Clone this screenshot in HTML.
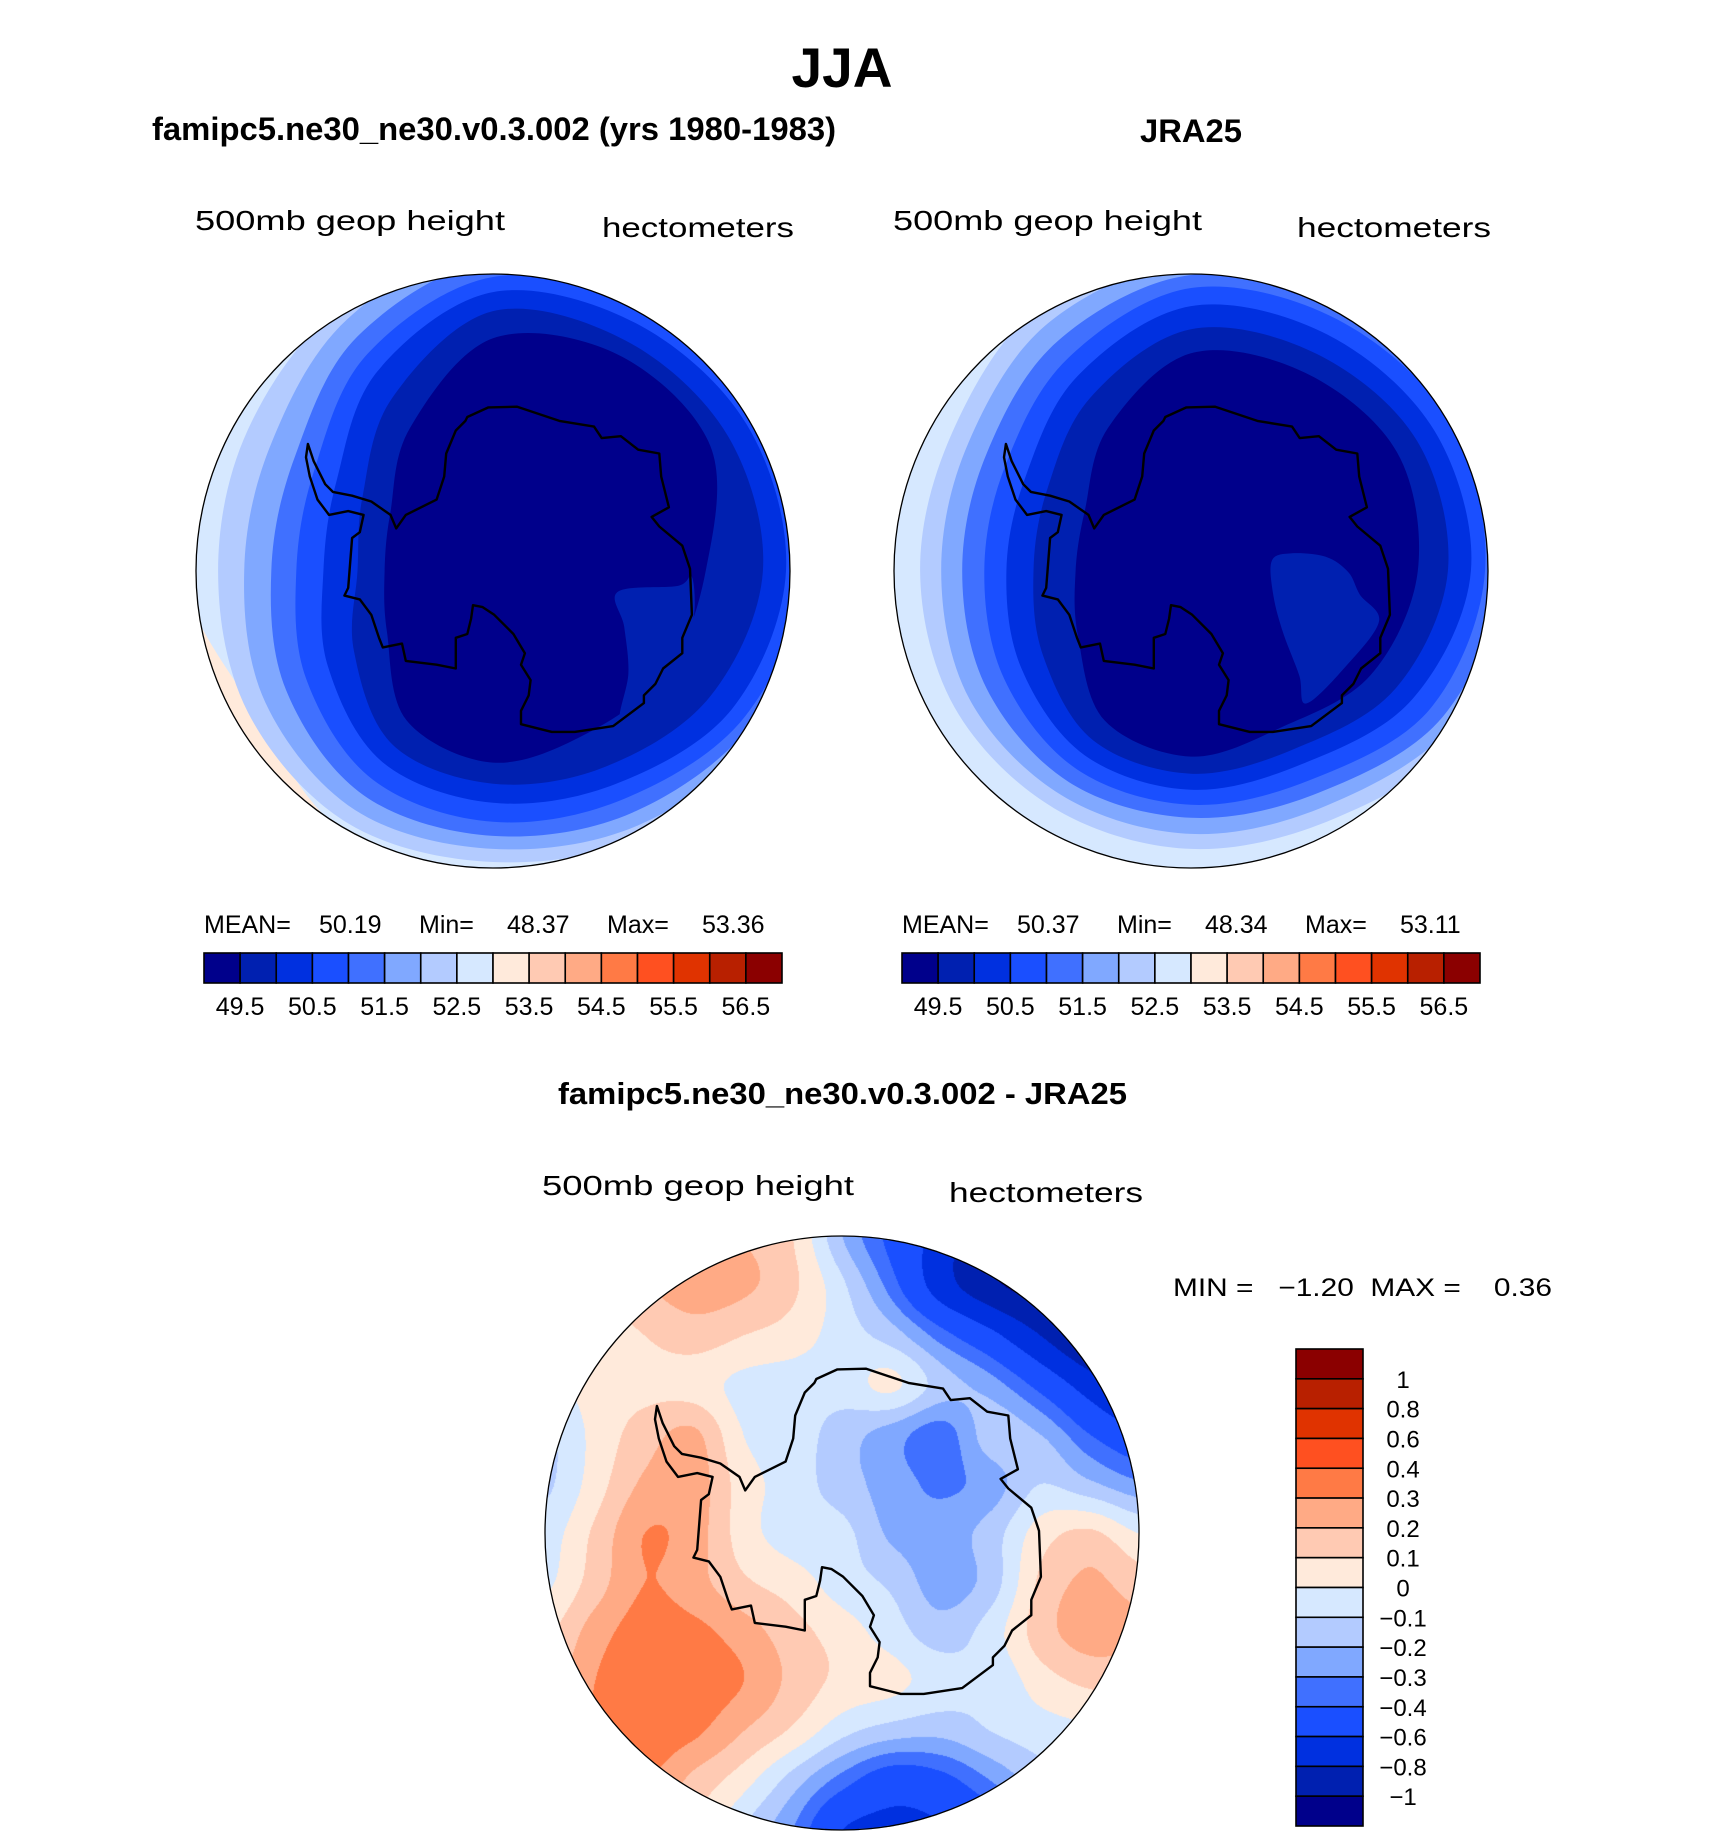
<!DOCTYPE html>
<html><head><meta charset="utf-8"><title>JJA 500mb geop height</title>
<style>
html,body{margin:0;padding:0;background:#fff;}
#wrap{position:relative;width:1710px;height:1839px;overflow:hidden;background:#fff;}
#diffCanvas{position:absolute;left:0;top:0;}
#main{position:absolute;left:0;top:0;}
text{font-family:"Liberation Sans",sans-serif;fill:#000;}
</style></head>
<body>
<div id="wrap">
<canvas id="diffCanvas" width="1710" height="1839"></canvas>
<svg id="main" width="1710" height="1839" xmlns="http://www.w3.org/2000/svg">
  <text x="842" y="87" text-anchor="middle" font-size="56" font-weight="bold" textLength="101" lengthAdjust="spacingAndGlyphs">JJA</text>
  <text x="152" y="140" font-size="32" font-weight="bold" textLength="684" lengthAdjust="spacingAndGlyphs">famipc5.ne30_ne30.v0.3.002 (yrs 1980-1983)</text>
  <text x="1140" y="142" font-size="32" font-weight="bold" textLength="102" lengthAdjust="spacingAndGlyphs">JRA25</text>
  <text x="195" y="230" font-size="28" textLength="310" lengthAdjust="spacingAndGlyphs">500mb geop height</text>
  <text x="602" y="237" font-size="28" textLength="192" lengthAdjust="spacingAndGlyphs">hectometers</text>
  <text x="893" y="230" font-size="28" textLength="309" lengthAdjust="spacingAndGlyphs">500mb geop height</text>
  <text x="1297" y="237" font-size="28" textLength="194" lengthAdjust="spacingAndGlyphs">hectometers</text>
  <text x="558" y="1104" font-size="31" font-weight="bold" textLength="569" lengthAdjust="spacingAndGlyphs">famipc5.ne30_ne30.v0.3.002 - JRA25</text>
  <text x="542" y="1195" font-size="28" textLength="312" lengthAdjust="spacingAndGlyphs">500mb geop height</text>
  <text x="949" y="1202" font-size="28" textLength="194" lengthAdjust="spacingAndGlyphs">hectometers</text>
  <text x="1173" y="1296" font-size="25" textLength="379" lengthAdjust="spacingAndGlyphs" xml:space="preserve">MIN =   −1.20  MAX =    0.36</text>
  <g id="layer"></g>
</svg>
</div>
<script>
// ---------------- DATA ----------------
const angleDeg = [0,30,60,90,120,150,180,210,240,270,300,330];
const upperLevels = [53,52.5,52,51.5,51,50.5,50,49.5];
const upperColors = ["#d6e8ff","#b3cbff","#80a8ff","#4070ff","#1a4fff","#0030e0","#0020b0","#00008b"];
const upperOuterColor = "#ffeadb";
const modelR53   = [360,360,340,320,300,276,310,330,340,360,360,360];
const modelR52_5 = [350,330,305,290,290,282,274,282,305,340,350,350];
const modelR52   = [340,315,292,277,275,262,248,255,290,330,340,340];
const modelR51_5 = [320,300,278,264,258,238,221,228,270,310,320,325];
const modelR51   = [310,290,262,250,240,215,196,205,250,293,305,310];
const modelR50_5 = [292,275,245,231,220,190,169,180,230,278,285,292];
const modelR50   = [269,250,225,212,200,160,135,150,200,259,265,270];
const modelR49_5 = [212,200,187,191,172,122,108,118,165,232,249,250];
const modelIslandAngles = [9.5,4.6,1.5,12,23.5,37,49,37,23];
const modelIslandRadii  = [126,185,198,205,206,199,194,169,142];
const obsR53   = [345,345,345,345,345,345,345,345,345,345,345,345];
const obsR52_5 = [350,320,285,277,273,272,270,275,305,340,350,350];
const obsR52   = [330,303,270,262,258,255,249,256,285,310,330,330];
const obsR51_5 = [310,290,255,246,243,235,228,235,265,295,305,312];
const obsR51   = [293,275,240,233,228,215,206,213,245,282,290,298];
const obsR50_5 = [279,255,222,218,212,195,184,190,225,264,272,280];
const obsR50   = [256,235,205,202,195,170,157,165,200,241,250,260];
const obsR49_5 = [226,207,180,185,172,130,115,122,165,217,228,237];
const obsIslandAngles = [-7,-10,-6,0.5,8,15,32,49,44,34,17];
const obsIslandRadii  = [81,101,135,157,170,194,181,175,150,111,86];
const barLabels = ["49.5","50.5","51.5","52.5","53.5","54.5","55.5","56.5"];
const barColors = ["#00008b","#0020b0","#0030e0","#1a4fff","#4070ff","#80a8ff","#b3cbff","#d6e8ff","#ffeadb","#ffcab3","#ffaa85","#ff7a45","#ff5020","#e03300","#b82000","#8b0000"];
const modelStats = ["50.19","48.37","53.36"];
const obsStats = ["50.37","48.34","53.11"];
const diffRow0  = [0.05,0.1,0.15,0.22,0.2,0.1,-0.2,-0.45,-0.7,-1.05,-1.2,-1.3,-1.3];
const diffRow1  = [0.0,0.05,0.18,0.25,0.22,0.12,-0.08,-0.35,-0.7,-0.95,-1.1,-1.15,-1.2];
const diffRow2  = [0.0,0.05,0.1,0.15,0.1,0.05,-0.05,-0.15,-0.35,-0.55,-0.8,-1.05,-1.2];
const diffRow3  = [-0.05,0.05,0.07,0.05,-0.03,-0.05,-0.05,0.02,-0.15,-0.25,-0.45,-0.7,-0.95];
const diffRow4  = [-0.12,0.03,0.15,0.22,0.0,-0.05,-0.15,-0.25,-0.35,-0.15,-0.2,-0.4,-0.55];
const diffRow5  = [-0.12,0.05,0.22,0.25,0.05,-0.05,-0.15,-0.25,-0.32,-0.25,-0.1,-0.18,-0.28];
const diffRow6  = [-0.05,0.12,0.3,0.25,0.05,-0.05,-0.07,-0.22,-0.25,-0.15,0.05,0.12,0.0];
const diffRow7  = [-0.02,0.15,0.3,0.24,0.12,0.05,-0.05,-0.12,-0.25,-0.15,0.12,0.22,0.15];
const diffRow8  = [0.08,0.25,0.35,0.33,0.25,0.14,0.05,-0.05,-0.15,-0.05,0.15,0.25,0.22];
const diffRow9  = [0.15,0.3,0.38,0.36,0.3,0.17,0.07,0.03,-0.05,-0.08,0.05,0.12,0.12];
const diffRow10 = [0.2,0.3,0.36,0.32,0.2,0.08,-0.07,-0.15,-0.17,-0.1,-0.05,-0.02,0.0];
const diffRow11 = [0.2,0.25,0.3,0.17,0.04,-0.15,-0.35,-0.5,-0.45,-0.3,-0.15,-0.1,-0.05];
const diffRow12 = [0.15,0.15,0.15,0.1,-0.1,-0.3,-0.6,-0.65,-0.62,-0.5,-0.3,-0.2,-0.1];
const diffLevels = [-1,-0.8,-0.6,-0.4,-0.3,-0.2,-0.1,0,0.1,0.2,0.3,0.4,0.6,0.8,1];
const diffLabels = ["1","0.8","0.6","0.4","0.3","0.2","0.1","0","\u22120.1","\u22120.2","\u22120.3","\u22120.4","\u22120.6","\u22120.8","\u22121"];
const coastTrace = [[535,675],[560,640],[640,600],[660,540],[665,480],[690,420],[715,395],[720,385],[775,360],[850,358],[960,395],[1050,410],[1070,440],[1120,435],[1165,470],[1220,480],[1225,540],[1245,620],[1200,645],[1220,670],[1280,720],[1300,780],[1305,900],[1280,960],[1280,1000],[1230,1040],[1210,1080],[1180,1110],[1180,1130],[1100,1190],[1000,1205],[940,1205],[860,1185],[860,1150],[880,1110],[885,1070],[860,1030],[870,1000],[840,950],[790,900],[760,880],[735,875],[730,910],[720,950],[690,960],[690,1040],[640,1030],[560,1020],[550,975],[500,985],[490,960],[470,900],[440,860],[400,850],[410,830],[420,700],[440,685],[450,640],[410,630],[360,640],[330,600],[310,540],[300,490],[305,455],[320,500],[350,560],[370,580],[420,590],[470,605],[520,640],[535,675]];

// ---------------- DRAWING ----------------
const NS = "http://www.w3.org/2000/svg";
const layer = document.getElementById('layer');
function el(tag, attrs, parent){const e=document.createElementNS(NS,tag);for(const k in attrs)e.setAttribute(k,attrs[k]);(parent||layer).appendChild(e);return e;}
function smoothClosed(pts){
  const n=pts.length;let d="M"+pts[0][0].toFixed(1)+","+pts[0][1].toFixed(1);
  for(let i=0;i<n;i++){
    const p0=pts[(i-1+n)%n],p1=pts[i],p2=pts[(i+1)%n],p3=pts[(i+2)%n];
    const c1=[p1[0]+(p2[0]-p0[0])/6,p1[1]+(p2[1]-p0[1])/6];
    const c2=[p2[0]-(p3[0]-p1[0])/6,p2[1]-(p3[1]-p1[1])/6];
    d+="C"+c1[0].toFixed(1)+","+c1[1].toFixed(1)+" "+c2[0].toFixed(1)+","+c2[1].toFixed(1)+" "+p2[0].toFixed(1)+","+p2[1].toFixed(1);
  }
  return d+"Z";
}
function polarPts(cx,cy,R,angles,radii){
  const s=R/296;
  return angles.map((a,i)=>{const t=a*Math.PI/180;return [cx+Math.cos(t)*radii[i]*s, cy+Math.sin(t)*radii[i]*s];});
}
function drawCoast(g,cx,cy,R){
  const s=R/296;
  const d=coastTrace.map((p,i)=>(i?"L":"M")+(cx+(p[0]-787)/2.613*s).toFixed(1)+","+(cy+(p[1]-786)/2.613*s).toFixed(1)).join("")+"Z";
  const c=el('path',{d:d,fill:'none',stroke:'#000','stroke-width':2.4,'stroke-linejoin':'round'},g);
  
  
}
function drawUpper(id,cx,cy,R,radiiSets,islA,islR){
  const clip=el('clipPath',{id:'clip-'+id});
  el('circle',{cx:cx,cy:cy,r:R},clip);
  const g=el('g',{'clip-path':'url(#clip-'+id+')'});
  
  
  const bg=el('circle',{cx:cx,cy:cy,r:R,fill:upperOuterColor},g);
  
  
  radiiSets.forEach((radii,k)=>{
    const p=el('path',{d:smoothClosed(polarPts(cx,cy,R,angleDeg,radii)),fill:upperColors[k]},g);
    
    
  });
  const isl=el('path',{d:smoothClosed(polarPts(cx,cy,R,islA,islR)),fill:upperColors[6]},g);
  
  
  drawCoast(g,cx,cy,R);
  const o=el('circle',{cx:cx,cy:cy,r:R,fill:'none',stroke:'#000','stroke-width':1.3});
  
  
}
function drawHBar(id,x0,y0,w,h,stats){
  const bw=w/barColors.length;
  barColors.forEach((c,i)=>{
    const r=el('rect',{x:x0+i*bw,y:y0,width:bw,height:h,fill:c,stroke:'#000','stroke-width':1.6});
    
    
  });
  barLabels.forEach((t,k)=>{
    const tx=el('text',{x:x0+bw*(1+2*k),y:y0+h+32,'text-anchor':'middle','font-size':25});
    tx.textContent=t;
    
    
  });
  const names=["MEAN=","Min=","Max="];
  const offs=[[0,115],[215,303],[403,498]];
  names.forEach((n,k)=>{
    const a=el('text',{x:x0+offs[k][0],y:y0-20,'font-size':25});a.textContent=n;
    
    const b=el('text',{x:x0+offs[k][1],y:y0-20,'font-size':25});b.textContent=stats[k];
    
  });
}
drawUpper('model',493,571,297,[modelR53,modelR52_5,modelR52,modelR51_5,modelR51,modelR50_5,modelR50,modelR49_5],modelIslandAngles,modelIslandRadii);
drawUpper('obs',1191,571,297,[obsR53,obsR52_5,obsR52,obsR51_5,obsR51,obsR50_5,obsR50,obsR49_5],obsIslandAngles,obsIslandRadii);
drawHBar('model',204,953,578,30,modelStats);
drawHBar('obs',902,953,578,30,obsStats);

const diffGrid=[diffRow0,diffRow1,diffRow2,diffRow3,diffRow4,diffRow5,diffRow6,diffRow7,diffRow8,diffRow9,diffRow10,diffRow11,diffRow12];
const DCX=842,DCY=1533,DR=297;
(function(){
  const cv=document.getElementById('diffCanvas');const ctx=cv.getContext('2d');
  const size=DR*2, x0=DCX-DR, y0=DCY-DR;
  const img=ctx.createImageData(size,size);
  const n=diffGrid.length, step=size/(n-1);
  const rgb=barColors.map(h=>[parseInt(h.substr(1,2),16),parseInt(h.substr(3,2),16),parseInt(h.substr(5,2),16)]);
  function g(i,j){i=Math.max(0,Math.min(n-1,i));j=Math.max(0,Math.min(n-1,j));return diffGrid[j][i];}
  function cr(p0,p1,p2,p3,t){return p1+0.5*t*(p2-p0+t*(2*p0-5*p1+4*p2-p3+t*(3*(p1-p2)+p3-p0)));}
  for(let py=0;py<size;py++){
    for(let px=0;px<size;px++){
      const dx=px-DR+0.5,dy=py-DR+0.5;
      if(dx*dx+dy*dy>DR*DR)continue;
      const u=px/step,v=py/step;const i=Math.floor(u),j=Math.floor(v);const tu=u-i,tv=v-j;
      const rows=[];
      for(let m=-1;m<=2;m++)rows.push(cr(g(i-1,j+m),g(i,j+m),g(i+1,j+m),g(i+2,j+m),tu));
      const val=cr(rows[0],rows[1],rows[2],rows[3],tv);
      let idx=0;while(idx<diffLevels.length&&val>diffLevels[idx])idx++;
      const c=rgb[idx];const o=(py*size+px)*4;
      img.data[o]=c[0];img.data[o+1]=c[1];img.data[o+2]=c[2];img.data[o+3]=255;
    }
  }
  ctx.putImageData(img,x0,y0);
})();
const dg=el('g',{});


drawCoast(dg,DCX,DCY,DR);
const dOut=el('circle',{cx:DCX,cy:DCY,r:DR,fill:'none',stroke:'#000','stroke-width':1.3});


(function(){
  const x0=1296,y0=1349,w=67,h=477,bh=h/16;
  const colsTopDown=barColors.slice().reverse();
  colsTopDown.forEach((c,i)=>{
    const r=el('rect',{x:x0,y:y0+i*bh,width:w,height:bh,fill:c,stroke:'#000','stroke-width':1.6});
    
    
  });
  diffLabels.forEach((t,k)=>{
    const tx=el('text',{x:1403,y:y0+bh*(k+1)+9,'text-anchor':'middle','font-size':24});
    tx.textContent=t;
    
    
  });
})();
</script>
</body></html>
